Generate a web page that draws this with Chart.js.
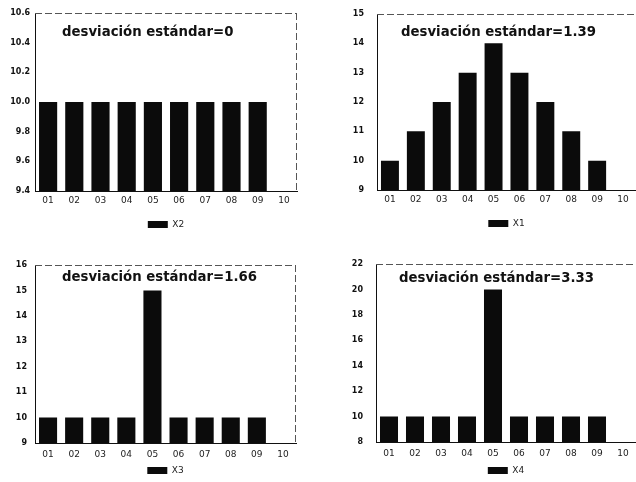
<!DOCTYPE html>
<html>
<head>
<meta charset="utf-8">
<script src="https://cdn.jsdelivr.net/npm/chart.js@4.4.0/dist/chart.umd.min.js"></script>
<style>
    html, body { margin: 0; padding: 0; background: #fff; width: 636px; height: 482px; overflow: hidden; }
    canvas { position: absolute; }
</style>
</head>
<body>
<canvas id="c1" width="318" style="left:0;top:0"></canvas>
<canvas id="c2" width="318" style="left:318px;top:0"></canvas>
<canvas id="c3" width="318" style="left:0;top:250px"></canvas>
<canvas id="c4" width="318" style="left:318px;top:250px"></canvas>
<script>
// datos
const categorias = ['01', '02', '03', '04', '05', '06', '07', '08', '09', '10'];
const x1 = [10, 11, 12, 13, 14, 13, 12, 11, 10, null];
const x2 = [10, 10, 10, 10, 10, 10, 10, 10, 10, null];
const x3 = [10, 10, 10, 10, 15, 10, 10, 10, 10, null];
const x4 = [10, 10, 10, 10, 20, 10, 10, 10, 10, null];
const ticksX1 = [9, 10, 11, 12, 13, 14, 15];
const ticksX2 = [9.4, 9.6, 9.8, 10.0, 10.2, 10.4, 10.6];
const ticksX3 = [9, 10, 11, 12, 13, 14, 15, 16];
const ticksX4 = [8, 10, 12, 14, 16, 18, 20, 22];
const titulos = ['desviación estándar=0', 'desviación estándar=1.39', 'desviación estándar=1.66', 'desviación estándar=3.33'];

// marco punteado arriba/derecha, texto dentro del área y leyenda centrada en el área
const marcoPlugin = {
    id: 'marco',
    afterLayout(chart) {
        if (chart.legend) {
            chart.legend.left = chart.chartArea.left;
            chart.legend.right = chart.chartArea.right;
        }
    },
    afterDraw(chart, args, opts) {
        const { ctx, chartArea: a } = chart;
        ctx.save();
        ctx.strokeStyle = '#555';
        ctx.lineWidth = 1;
        ctx.setLineDash([7, 3]);
        ctx.beginPath();
        ctx.moveTo(a.left, a.top + 0.5);
        ctx.lineTo(a.right, a.top + 0.5);
        if (opts.derecha) {
            ctx.moveTo(a.right - 0.5, a.top);
            ctx.lineTo(a.right - 0.5, a.bottom);
        }
        ctx.stroke();
        ctx.setLineDash([]);
        ctx.fillStyle = '#111';
        ctx.font = 'bold 13.3px "DejaVu Sans"';
        ctx.textBaseline = 'middle';
        ctx.fillText(opts.text, a.left + opts.dx, a.top + opts.dy);
        ctx.restore();
    }
};

function panel(id, datos, nombre, ticks, titulo, g) {
    const canvas = document.getElementById(id);
    canvas.height = g.legendY + 14.5;
    const yTickLabel = g.decimales ? (v) => v.toFixed(1) : (v) => v;
    new Chart(canvas, {
        type: 'bar',
        data: {
            labels: categorias,
            datasets: [{
                label: nombre,
                data: datos,
                backgroundColor: '#0b0b0b',
                borderWidth: 0,
                barPercentage: 0.9,
                categoryPercentage: 0.77,
            }]
        },
        options: {
            responsive: false,
            animation: false,
            events: [],
            layout: { padding: { left: 0, right: g.padRight, top: g.top, bottom: 0 } },
            plugins: {
                legend: {
                    position: 'bottom',
                    labels: { boxWidth: 20, boxHeight: 7, padding: 6, color: '#222', font: { family: 'DejaVu Sans', size: 9 } }
                },
                tooltip: { enabled: false },
                marco: { text: titulo, dx: g.titleDx, dy: g.titleDy, derecha: g.padRight > 0 }
            },
            scales: {
                x: {
                    grid: { display: false, drawTicks: false },
                    border: { display: true, color: '#111', width: 1 },
                    ticks: { color: '#222', padding: g.xPad, maxRotation: 0, font: { family: 'DejaVu Sans', size: 9 } },
                    afterFit: (s) => { s.height = g.legendY - 10.5 - g.bottom; }
                },
                y: {
                    min: ticks[0],
                    max: ticks[ticks.length - 1],
                    grid: { display: false, drawTicks: false },
                    border: { display: true, color: '#111', width: 1 },
                    ticks: { color: '#111', padding: g.yPad, font: { family: 'DejaVu Sans', size: 8, weight: 'bold' }, callback: yTickLabel },
                    afterBuildTicks: (s) => { s.ticks = ticks.map(v => ({ value: v })); },
                    afterFit: (s) => { s.width = g.yWidth; s.paddingTop = 0; s.paddingBottom = 0; }
                }
            }
        },
        plugins: [marcoPlugin]
    });
}

panel('c1', x2, 'X2', ticksX2, titulos[0], { padRight: 21, yWidth: 35, top: 13, bottom: 191, legendY: 224.5, xPad: 4, yPad: 5, titleDx: 27, titleDy: 20, decimales: true });
panel('c2', x1, 'X1', ticksX1, titulos[1], { padRight: 0, yWidth: 59, top: 14, bottom: 190, legendY: 223.5, xPad: 4, yPad: 13, titleDx: 24, titleDy: 19 });
panel('c3', x3, 'X3', ticksX3, titulos[2], { padRight: 22, yWidth: 35, top: 15, bottom: 193, legendY: 220.5, xPad: 6, yPad: 8, titleDx: 27, titleDy: 13 });
panel('c4', x4, 'X4', ticksX4, titulos[3], { padRight: 0, yWidth: 58, top: 14, bottom: 192, legendY: 220.5, xPad: 6, yPad: 13, titleDx: 23, titleDy: 15 });
</script>
</body>
</html>
